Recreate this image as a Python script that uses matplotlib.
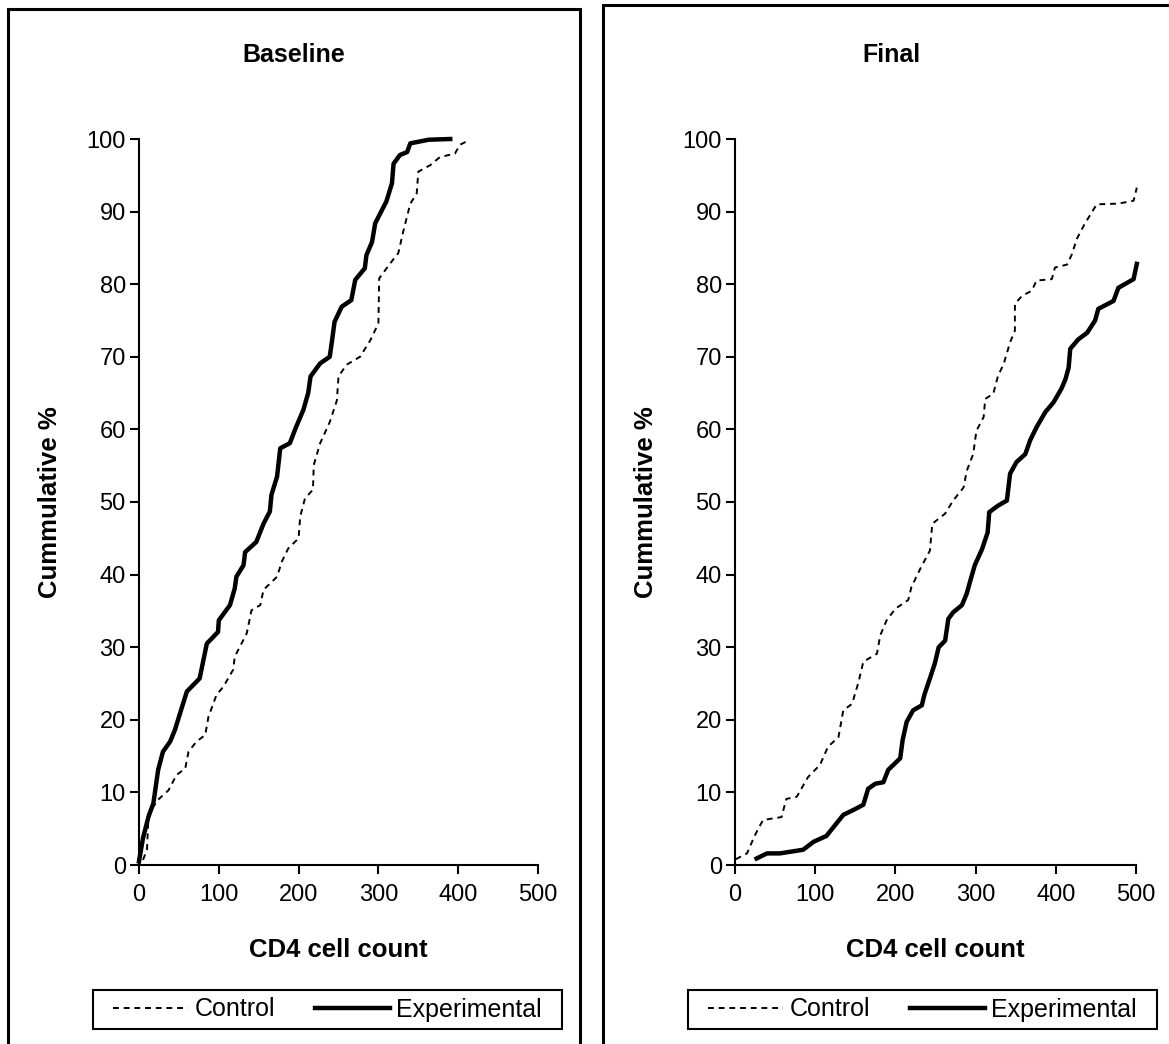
import matplotlib.pyplot as plt
from matplotlib.patches import Rectangle

plt.rcParams['font.family'] = ['Liberation Sans', 'DejaVu Sans']

# Baseline panel
base_exp_x = [0, 5, 12, 18, 24, 30, 39, 45, 54, 60, 76, 85, 99, 100, 114, 120, 122, 131, 133, 147,
              156, 164, 166, 173, 177, 189, 196, 206, 212, 215, 227, 239, 242, 245, 254, 266, 271,
              283, 285, 292, 296, 310, 317, 319, 327, 336, 340, 363, 390]
base_exp_y = [0.5, 3.7, 6.7, 8.5, 13.1, 15.6, 17.0, 18.6, 21.8, 23.9, 25.7, 30.5, 32.1, 33.7, 35.8,
              38.1, 39.7, 41.3, 43.1, 44.5, 47.0, 48.7, 51.0, 53.5, 57.4, 58.1, 60.1, 62.7, 65.0,
              67.3, 69.1, 70.0, 72.3, 74.8, 76.9, 77.8, 80.6, 82.2, 84.0, 85.8, 88.4, 91.4, 93.9,
              96.6, 97.8, 98.2, 99.4, 99.9, 100.0]

base_ctl_x = [5, 10, 12, 24, 37, 47, 58, 62, 72, 83, 87, 97, 106, 118, 120, 135, 141, 152, 156, 173,
              179, 187, 200, 202, 208, 218, 219, 227, 239, 248, 250, 260, 277, 290, 300, 301, 315,
              325, 331, 340, 348, 350, 365, 377, 396, 402, 413]
base_ctl_y = [0.7, 2.1, 7.1, 9.0, 10.3, 12.4, 13.3, 15.6, 17.0, 17.9, 20.4, 23.4, 24.6, 26.9, 28.7,
              31.9, 35.1, 35.8, 37.9, 39.7, 41.8, 43.6, 45.0, 48.0, 50.5, 51.7, 55.1, 58.1, 61.0,
              64.0, 67.3, 68.9, 70.0, 72.3, 74.6, 80.8, 82.9, 84.3, 87.2, 91.1, 92.5, 95.5, 96.4,
              97.5, 98.0, 99.2, 99.8]

# Final panel
fin_ctl_x = [1, 15, 24, 29, 35, 58, 64, 77, 91, 106, 116, 129, 135, 146, 154, 160, 177, 181, 189,
             200, 216, 220, 231, 243, 246, 262, 272, 285, 289, 297, 301, 310, 312, 322, 328, 335,
             343, 349, 349, 358, 370, 376, 395, 399, 414, 420, 426, 436, 451, 478, 497, 501]
fin_ctl_y = [0.8, 1.6, 3.9, 5.0, 6.2, 6.6, 9.1, 9.4, 12.1, 13.8, 16.3, 17.6, 21.3, 22.2, 25.2, 28.0,
             29.1, 31.6, 33.7, 35.3, 36.5, 38.3, 40.8, 43.3, 47.0, 48.4, 50.2, 52.0, 54.3, 56.6,
             59.8, 61.7, 64.2, 64.9, 67.4, 69.0, 72.0, 73.6, 77.3, 78.4, 79.1, 80.5, 80.7, 82.3,
             82.7, 84.1, 86.2, 88.3, 91.0, 91.1, 91.5, 93.3]

fin_exp_x = [27, 40, 56, 85, 98, 114, 135, 148, 160, 166, 175, 185, 191, 206, 209, 214, 222, 233,
             236, 243, 249, 254, 262, 266, 272, 283, 289, 293, 299, 308, 315, 317, 328, 339, 343,
             351, 362, 368, 376, 387, 397, 407, 412, 416, 418, 428, 439, 449, 453, 472, 478, 497, 501]
fin_exp_y = [0.9, 1.6, 1.6, 2.1, 3.2, 4.0, 6.9, 7.6, 8.3, 10.5, 11.2, 11.4, 13.1, 14.7, 17.2, 19.7,
             21.3, 22.0, 23.4, 25.7, 27.7, 30.0, 30.9, 33.9, 34.8, 35.8, 37.4, 39.0, 41.3, 43.5,
             45.8, 48.6, 49.5, 50.2, 53.9, 55.5, 56.6, 58.5, 60.3, 62.4, 63.7, 65.6, 66.9, 68.5,
             71.1, 72.4, 73.3, 75.0, 76.6, 77.7, 79.5, 80.7, 82.8]

panels = [
    ('Baseline', base_ctl_x, base_ctl_y, base_exp_x, base_exp_y),
    ('Final', fin_ctl_x, fin_ctl_y, fin_exp_x, fin_exp_y),
]

W, H = 1169, 1044
fig = plt.figure(figsize=(W / 100, H / 100), dpi=100)

# px layout: axes left edge, panel box left/right, box top, legend box
layout = [
    dict(ax_left=139, ax_w=399, box=(8, 580), box_top=9, leg=(93, 562)),
    dict(ax_left=735, ax_w=401, box=(603, 1179), box_top=5, leg=(688, 1157)),
]

ax_top, ax_bot = 139, 865
leg_top, leg_bot = 990, 1029

for (title, cx, cy, ex, ey), lay in zip(panels, layout):
    b0, b1 = lay['box']
    fig.patches.append(Rectangle((b0 / W, -0.05), (b1 - b0) / W, 1.05 - lay['box_top'] / H,
                                 transform=fig.transFigure, fill=False, lw=2.2,
                                 edgecolor='black', clip_on=False))

    ax = fig.add_axes([lay['ax_left'] / W, 1 - ax_bot / H, lay['ax_w'] / W, (ax_bot - ax_top) / H])
    l1, = ax.plot(cx, cy, color='black', lw=1.4, linestyle=(0, (3, 2.5)), clip_on=False)
    l2, = ax.plot(ex, ey, color='black', lw=3.2, solid_joinstyle='round', clip_on=False)

    ax.set_xlim(0, 500)
    ax.set_ylim(0, 100)
    ax.set_xticks(range(0, 501, 100))
    ax.set_yticks(range(0, 101, 10))
    for s in ['top', 'right']:
        ax.spines[s].set_visible(False)
    for s in ['left', 'bottom']:
        ax.spines[s].set_linewidth(1.5)
    ax.tick_params(direction='out', length=6.5, width=1.5, labelsize=17)
    ax.tick_params(axis='x', pad=7)
    ax.tick_params(axis='y', pad=3)

    cx_box = (b0 + b1) / 2
    fig.text(cx_box / W, 1 - 55 / H, title, ha='center', va='center',
             fontsize=18, fontweight='bold')
    ax_mid = lay['ax_left'] + lay['ax_w'] / 2
    fig.text(ax_mid / W, 1 - 950 / H, 'CD4 cell count', ha='center', va='center',
             fontsize=18.5, fontweight='bold')
    fig.text((lay['ax_left'] - 89) / W, 1 - 502 / H, 'Cummulative %', ha='center', va='center',
             rotation=90, fontsize=18.5, fontweight='bold')

    g0, g1 = lay['leg']
    fig.patches.append(Rectangle((g0 / W, 1 - leg_bot / H), (g1 - g0) / W, (leg_bot - leg_top) / H,
                                 transform=fig.transFigure, fill=False, lw=1.5,
                                 edgecolor='black'))
    fig.legend([l1, l2], ['Control', 'Experimental'], ncol=2,
               loc='center', bbox_to_anchor=((g0 + g1) / 2 / W, 1 - (leg_top + leg_bot) / 2 / H),
               fontsize=18, frameon=False,
               handlelength=3.0, handletextpad=0.25, columnspacing=1.6,
               borderpad=0.2, borderaxespad=0)

fig.savefig('out.png', dpi=100)
